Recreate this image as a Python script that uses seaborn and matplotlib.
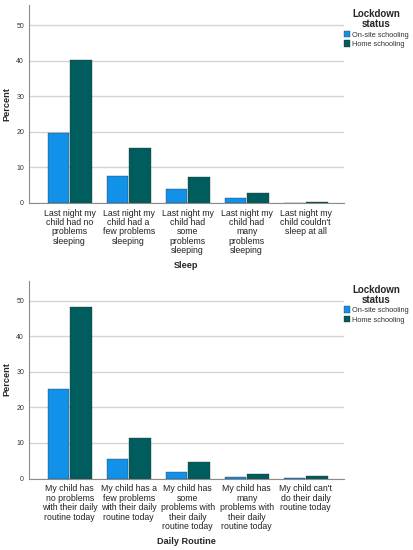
import pandas as pd
import matplotlib
matplotlib.use("Agg")
import matplotlib.pyplot as plt
import seaborn as sns

# Values (percent)
statuses = ["On-site schooling", "Home schooling"]
status_colors = ["#1192e8", "#005d5d"]

sleep_labels = [
    "Last night my\nchild had no\nproblems\nsleeping",
    "Last night my\nchild had a\nfew problems\nsleeping",
    "Last night my\nchild had\nsome\nproblems\nsleeping",
    "Last night my\nchild had\nmany\nproblems\nsleeping",
    "Last night my\nchild couldn't\nsleep at all",
]
sleep_onsite = [19.7, 7.6, 4.0, 1.3, 0.1]
sleep_home = [40.2, 15.5, 7.2, 2.8, 0.2]

routine_labels = [
    "My child has\nno problems\nwith their daily\nroutine today",
    "My child has a\nfew problems\nwith their daily\nroutine today",
    "My child has\nsome\nproblems with\ntheir daily\nroutine today",
    "My child has\nmany\nproblems with\ntheir daily\nroutine today",
    "My child can't\ndo their daily\nroutine today",
]
routine_onsite = [25.3, 5.4, 1.9, 0.4, 0.2]
routine_home = [48.2, 11.5, 4.6, 1.3, 0.7]

y_ticks = [0, 10, 20, 30, 40, 50]


def build_frame(labels, onsite, home):
    """Long-form table for seaborn."""
    rows = []
    for lab, a, b in zip(labels, onsite, home):
        rows.append({"item": lab, "status": statuses[0], "percent": a})
        rows.append({"item": lab, "status": statuses[1], "percent": b})
    return pd.DataFrame(rows)


def draw_panel(ax, labels, onsite, home, xlabel):
    df = build_frame(labels, onsite, home)
    sns.barplot(data=df, x="item", y="percent", hue="status",
                order=labels, hue_order=statuses, palette=status_colors,
                saturation=1, width=0.77, gap=0.07, edgecolor="#2a2a2a",
                linewidth=0.25, errorbar=None, ax=ax)

    ax.set_ylim(0, 55.7)
    ax.set_xlim(-0.69, 4.65)
    ax.set_yticks(y_ticks)
    ax.grid(axis="y", color="#d4d4d4", linewidth=1.0)
    ax.set_axisbelow(True)
    for side in ["top", "right"]:
        ax.spines[side].set_visible(False)
    for side in ["left", "bottom"]:
        ax.spines[side].set_color("#8c8c8c")
        ax.spines[side].set_linewidth(0.8)

    ax.tick_params(axis="y", length=0, pad=3.5, labelsize=5.0, labelcolor="#333333")
    ax.tick_params(axis="x", length=0, pad=4)
    for t in ax.get_xticklabels():
        t.set_fontsize(6.3)
        t.set_linespacing(1.07)
        t.set_color("#222222")

    ax.set_xlabel(xlabel, fontsize=6.6, fontweight="bold")
    ax.xaxis.set_label_coords(0.5, -0.317)
    ax.xaxis.label.set_va("center")
    ax.set_ylabel("Percent", fontsize=6.6, fontweight="bold")
    ax.yaxis.set_label_coords(-0.07, 0.5)
    ax.yaxis.label.set_va("center")

    sns.move_legend(ax, "upper left", bbox_to_anchor=(0.995, 0.985),
                    title="Lockdown\nstatus", frameon=False, fontsize=5.3,
                    title_fontsize=7.0, handlelength=0.85, handleheight=1.0,
                    handletextpad=0.25, labelspacing=0.2, borderaxespad=0,
                    borderpad=0.2)
    leg = ax.get_legend()
    leg.get_title().set_fontweight("bold")
    leg.get_title().set_multialignment("center")
    leg.get_title().set_linespacing(1.0)
    for t in leg.get_texts():
        t.set_color("#333333")


def main():
    sns.set_style("white")
    plt.rcParams["font.family"] = ["Liberation Sans", "DejaVu Sans"]

    fig = plt.figure(figsize=(4.13, 5.5), dpi=100)
    ax_sleep = fig.add_axes([0.070, 0.631, 0.763, 0.36])
    ax_routine = fig.add_axes([0.070, 0.130, 0.763, 0.36])

    draw_panel(ax_sleep, sleep_labels, sleep_onsite, sleep_home, "Sleep")
    draw_panel(ax_routine, routine_labels, routine_onsite, routine_home, "Daily Routine")

    fig.savefig("out.png", dpi=100)
    plt.close(fig)


if __name__ == "__main__":
    main()
